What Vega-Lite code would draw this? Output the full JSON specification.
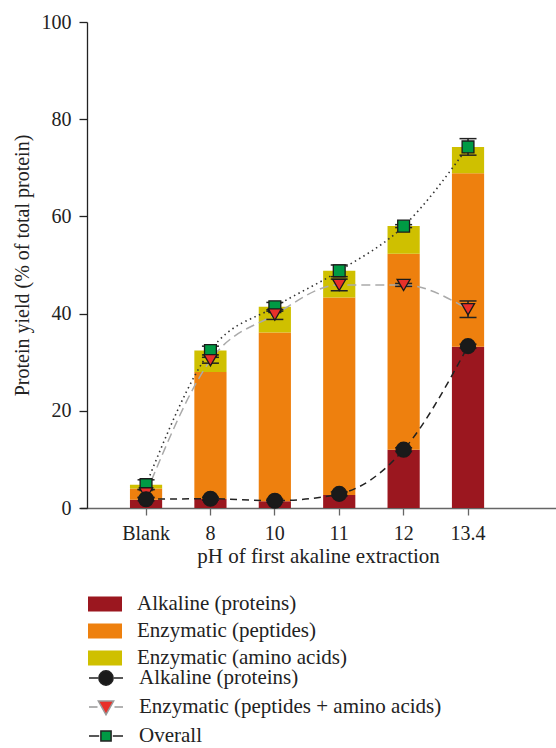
{
  "$schema": "https://vega.github.io/schema/vega-lite/v6.json",
  "width": 476,
  "height": 486,
  "autosize": {"type": "none"},
  "padding": {"left": 80, "top": 22, "right": 0, "bottom": 240},
  "background": "white",
  "config": {
    "font": "Liberation Serif",
    "view": {"stroke": null},
    "axis": {"grid": false, "labelFont": "Liberation Serif", "titleFont": "Liberation Serif", "labelFontSize": 20, "titleFontSize": 20, "titleFontWeight": "normal", "labelColor": "#222222", "titleColor": "#222222"},
    "legend": {"labelFont": "Liberation Serif", "labelFontSize": 21, "labelColor": "#222222", "labelLimit": 500, "padding": 0, "symbolOpacity": 1}
  },
  "datasets": {
    "bars": [
      {"pH": "Blank", "component": "Alkaline (proteins)", "k": 1, "value": 1.7},
      {"pH": "Blank", "component": "Enzymatic (peptides)", "k": 2, "value": 2.3},
      {"pH": "Blank", "component": "Enzymatic (amino acids)", "k": 3, "value": 0.8},
      {"pH": "8", "component": "Alkaline (proteins)", "k": 1, "value": 1.85},
      {"pH": "8", "component": "Enzymatic (peptides)", "k": 2, "value": 26.15},
      {"pH": "8", "component": "Enzymatic (amino acids)", "k": 3, "value": 4.4},
      {"pH": "10", "component": "Alkaline (proteins)", "k": 1, "value": 1.4},
      {"pH": "10", "component": "Enzymatic (peptides)", "k": 2, "value": 34.7},
      {"pH": "10", "component": "Enzymatic (amino acids)", "k": 3, "value": 5.3},
      {"pH": "11", "component": "Alkaline (proteins)", "k": 1, "value": 2.7},
      {"pH": "11", "component": "Enzymatic (peptides)", "k": 2, "value": 40.6},
      {"pH": "11", "component": "Enzymatic (amino acids)", "k": 3, "value": 5.5},
      {"pH": "12", "component": "Alkaline (proteins)", "k": 1, "value": 12.0},
      {"pH": "12", "component": "Enzymatic (peptides)", "k": 2, "value": 40.3},
      {"pH": "12", "component": "Enzymatic (amino acids)", "k": 3, "value": 5.7},
      {"pH": "13.4", "component": "Alkaline (proteins)", "k": 1, "value": 33.2},
      {"pH": "13.4", "component": "Enzymatic (peptides)", "k": 2, "value": 35.7},
      {"pH": "13.4", "component": "Enzymatic (amino acids)", "k": 3, "value": 5.4}
    ],
    "points": [
      {"pH": "Blank", "series": "Alkaline (proteins)", "value": 1.8, "lo": 1.5, "hi": 2.1},
      {"pH": "8", "series": "Alkaline (proteins)", "value": 1.9, "lo": 1.6, "hi": 2.2},
      {"pH": "10", "series": "Alkaline (proteins)", "value": 1.5, "lo": 1.2, "hi": 1.8},
      {"pH": "11", "series": "Alkaline (proteins)", "value": 2.9, "lo": 2.5, "hi": 3.3},
      {"pH": "12", "series": "Alkaline (proteins)", "value": 12.0, "lo": 11.6, "hi": 12.4},
      {"pH": "13.4", "series": "Alkaline (proteins)", "value": 33.3, "lo": 32.9, "hi": 33.7},
      {"pH": "Blank", "series": "Enzymatic (peptides + amino acids)", "value": 3.0, "lo": 2.2, "hi": 3.8},
      {"pH": "8", "series": "Enzymatic (peptides + amino acids)", "value": 30.4, "lo": 29.8, "hi": 31.0},
      {"pH": "10", "series": "Enzymatic (peptides + amino acids)", "value": 39.8, "lo": 38.8, "hi": 40.8},
      {"pH": "11", "series": "Enzymatic (peptides + amino acids)", "value": 45.9, "lo": 44.7, "hi": 47.1},
      {"pH": "12", "series": "Enzymatic (peptides + amino acids)", "value": 45.9, "lo": 45.6, "hi": 46.2},
      {"pH": "13.4", "series": "Enzymatic (peptides + amino acids)", "value": 40.9, "lo": 39.2, "hi": 42.6},
      {"pH": "Blank", "series": "Overall", "value": 4.8, "lo": 3.8, "hi": 5.8},
      {"pH": "8", "series": "Overall", "value": 32.4, "lo": 31.5, "hi": 33.3},
      {"pH": "10", "series": "Overall", "value": 41.4, "lo": 40.5, "hi": 42.3},
      {"pH": "11", "series": "Overall", "value": 48.8, "lo": 47.6, "hi": 50.0},
      {"pH": "12", "series": "Overall", "value": 58.0, "lo": 57.7, "hi": 58.3},
      {"pH": "13.4", "series": "Overall", "value": 74.3, "lo": 72.6, "hi": 76.0}
    ]
  },
  "encoding": {
    "x": {
      "field": "pH",
      "type": "nominal",
      "sort": ["Blank", "8", "10", "11", "12", "13.4"],
      "scale": {"type": "band", "paddingInner": 0.5, "paddingOuter": 0.946, "align": 0.41},
      "axis": {"title": "pH of first akaline extraction", "titleFontSize": 21, "labelAngle": 0, "domainColor": "#666666", "domainWidth": 1.3, "tickColor": "#666666", "tickWidth": 1.3, "tickSize": 7, "labelPadding": 8, "titlePadding": 2}
    }
  },
  "layer": [
    {
      "data": {"name": "bars"},
      "mark": {"type": "bar"},
      "encoding": {
        "y": {
          "field": "value", "type": "quantitative", "aggregate": "sum", "stack": "zero",
          "scale": {"domain": [0, 100], "nice": false},
          "axis": {"title": "Protein yield (% of total protein)", "values": [0, 20, 40, 60, 80, 100], "offset": -7, "domainColor": "#222222", "domainWidth": 1.3, "tickColor": "#222222", "tickWidth": 1.3, "tickSize": 8, "labelPadding": 8, "titlePadding": 9}
        },
        "color": {
          "field": "component", "type": "nominal",
          "scale": {"domain": ["Alkaline (proteins)", "Enzymatic (peptides)", "Enzymatic (amino acids)"], "range": ["#9b171f", "#ee800e", "#cfc000"]},
          "legend": {"title": null, "orient": "none", "legendX": 8, "legendY": 565, "symbolType": "M-1,-0.44H1V0.44H-1Z", "symbolSize": 1156, "symbolStrokeWidth": 0, "labelOffset": 15, "rowPadding": 0}
        },
        "order": {"field": "k", "type": "quantitative", "sort": "ascending"}
      }
    },
    {
      "data": {"name": "points"},
      "transform": [{"filter": "datum.series === 'Alkaline (proteins)'"}],
      "mark": {"type": "line", "interpolate": "monotone", "strokeWidth": 1.5, "color": "#222222", "strokeDash": [7, 5]},
      "encoding": {"y": {"field": "value", "type": "quantitative"}}
    },
    {
      "data": {"name": "points"},
      "transform": [{"filter": "datum.series === 'Enzymatic (peptides + amino acids)'"}],
      "mark": {"type": "line", "interpolate": "monotone", "strokeWidth": 1.5, "color": "#aaaaaa", "strokeDash": [9, 5]},
      "encoding": {"y": {"field": "value", "type": "quantitative"}}
    },
    {
      "data": {"name": "points"},
      "transform": [{"filter": "datum.series === 'Overall'"}],
      "mark": {"type": "line", "interpolate": "monotone", "strokeWidth": 1.6, "color": "#333333", "strokeDash": [1.5, 3.5]},
      "encoding": {"y": {"field": "value", "type": "quantitative"}}
    },
    {
      "data": {"name": "points"},
      "mark": {"type": "rule", "color": "#222222", "strokeWidth": 1.5},
      "encoding": {
        "y": {"field": "lo", "type": "quantitative"},
        "y2": {"field": "hi"}
      }
    },
    {
      "data": {"name": "points"},
      "mark": {"type": "tick", "color": "#222222", "size": 17, "thickness": 1.5, "opacity": 1},
      "encoding": {"y": {"field": "lo", "type": "quantitative"}}
    },
    {
      "data": {"name": "points"},
      "mark": {"type": "tick", "color": "#222222", "size": 17, "thickness": 1.5, "opacity": 1},
      "encoding": {"y": {"field": "hi", "type": "quantitative"}}
    },
    {
      "data": {"name": "points"},
      "transform": [{"filter": "datum.series === 'Overall'"}],
      "mark": {"type": "point", "shape": "square", "filled": true, "opacity": 1, "fill": "#009a44", "stroke": "#1a1a1a", "strokeWidth": 1.3, "size": 140},
      "encoding": {"y": {"field": "value", "type": "quantitative"}}
    },
    {
      "data": {"name": "points"},
      "transform": [{"filter": "datum.series === 'Enzymatic (peptides + amino acids)'"}],
      "mark": {"type": "point", "shape": "triangle-down", "filled": true, "opacity": 1, "fill": "#e8302a", "stroke": "#1a1a1a", "strokeWidth": 1.3, "size": 170},
      "encoding": {"y": {"field": "value", "type": "quantitative"}}
    },
    {
      "data": {"name": "points"},
      "transform": [{"filter": "datum.series === 'Alkaline (proteins)'"}],
      "mark": {"type": "point", "shape": "circle", "filled": true, "opacity": 1, "fill": "#1a1a1a", "stroke": "#1a1a1a", "strokeWidth": 1.3, "size": 220},
      "encoding": {"y": {"field": "value", "type": "quantitative"}}
    },
    {
      "data": {"name": "points"},
      "mark": {"type": "point", "filled": true, "opacity": 0, "strokeWidth": 1.5},
      "encoding": {
        "y": {"field": "value", "type": "quantitative"},
        "shape": {
          "field": "series", "type": "nominal",
          "scale": {"domain": ["Alkaline (proteins)", "Enzymatic (peptides + amino acids)", "Overall"], "range": ["M-1,0H-0.47M0.47,0H1M-0.42,0A0.42,0.42 0 1,0 0.42,0A0.42,0.42 0 1,0 -0.42,0Z", "M-1,0H-0.5M0.5,0H1M-0.45,-0.35L0.45,-0.35L0,0.45Z", "M-1,0H-0.4M0.4,0H1M-0.3,-0.3H0.3V0.3H-0.3Z"]},
          "legend": {"title": null, "orient": "none", "legendX": 8, "legendY": 638, "symbolSize": 1156, "symbolStrokeWidth": 1.5, "labelOffset": 15, "rowPadding": 0}
        },
        "fill": {
          "field": "series", "type": "nominal",
          "scale": {"domain": ["Alkaline (proteins)", "Enzymatic (peptides + amino acids)", "Overall"], "range": ["#1a1a1a", "#e8302a", "#009a44"]},
          "legend": {"title": null, "orient": "none", "legendX": 8, "legendY": 638, "symbolSize": 1156, "symbolStrokeWidth": 1.5, "labelOffset": 15, "rowPadding": 0}
        },
        "stroke": {
          "field": "series", "type": "nominal",
          "scale": {"domain": ["Alkaline (proteins)", "Enzymatic (peptides + amino acids)", "Overall"], "range": ["#222222", "#999999", "#222222"]},
          "legend": {"title": null, "orient": "none", "legendX": 8, "legendY": 638, "symbolSize": 1156, "symbolStrokeWidth": 1.5, "labelOffset": 15, "rowPadding": 0}
        }
      }
    }
  ]
}
